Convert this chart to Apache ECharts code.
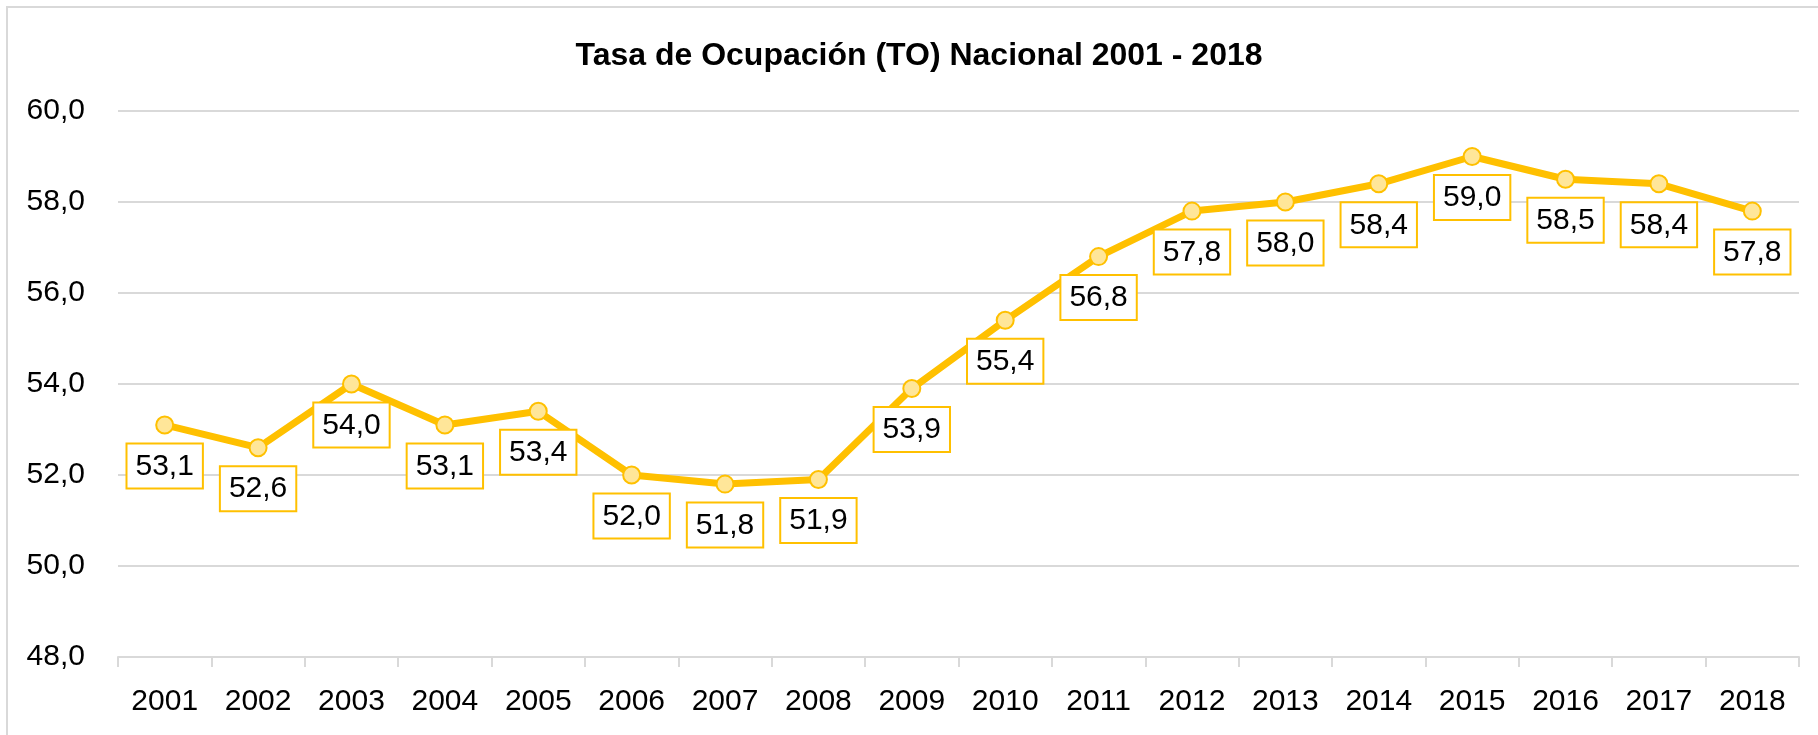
<!DOCTYPE html>
<html>
<head>
<meta charset="utf-8">
<script src="https://cdn.jsdelivr.net/npm/echarts@6/dist/echarts.min.js"></script>
<style>
  html, body { margin: 0; padding: 0; background: #fff; }
  #chart { width: 1818px; height: 735px; }
</style>
</head>
<body>
<div id="chart"></div>
<script>
// datos
const years = ['2001', '2002', '2003', '2004', '2005', '2006', '2007', '2008', '2009',
  '2010', '2011', '2012', '2013', '2014', '2015', '2016', '2017', '2018'];
const tasaOcupacion = [53.1, 52.6, 54.0, 53.1, 53.4, 52.0, 51.8, 51.9, 53.9,
  55.4, 56.8, 57.8, 58.0, 58.4, 59.0, 58.5, 58.4, 57.8];
const titleText = 'Tasa de Ocupación (TO) Nacional 2001 - 2018';

const fmt = v => Number(v).toFixed(1).replace('.', ',');
const font = '"Liberation Sans", Arial, sans-serif';

let myChart = echarts.init(document.getElementById('chart'));

let option = {
  backgroundColor: '#fff',
  textStyle: { fontFamily: font },
  animation: false,
  title: {
    text: titleText,
    left: 914,
    top: 35,
    textAlign: 'center',
    textStyle: {
      fontFamily: font,
      fontSize: 32,
      fontWeight: 'bold',
      color: '#000'
    }
  },
  graphic: [
    {
      type: 'rect',
      shape: { x: 7, y: 7, width: 1840, height: 760 },
      style: { fill: 'none', stroke: '#D9D9D9', lineWidth: 2 },
      z: -1
    }
  ],
  grid: {
    left: 118,
    right: 19,
    top: 111,
    bottom: 78
  },
  xAxis: {
    type: 'category',
    data: years,
    boundaryGap: true,
    axisLine: { lineStyle: { color: '#D9D9D9', width: 2 } },
    axisTick: {
      show: true,
      alignWithLabel: false,
      length: 10,
      lineStyle: { color: '#D9D9D9', width: 2 }
    },
    axisLabel: {
      color: '#000',
      fontSize: 30,
      fontFamily: font,
      margin: 30
    }
  },
  yAxis: {
    type: 'value',
    min: 48,
    max: 60,
    interval: 2,
    axisLine: { show: false },
    axisTick: { show: false },
    axisLabel: {
      color: '#000',
      fontSize: 30,
      fontFamily: font,
      margin: 33,
      formatter: fmt
    },
    splitLine: { lineStyle: { color: '#D9D9D9', width: 2 } }
  },
  series: [
    {
      type: 'line',
      data: tasaOcupacion,
      symbol: 'circle',
      symbolSize: 17,
      lineStyle: { color: '#FFC000', width: 7 },
      itemStyle: { color: '#FFE699', borderColor: '#FFC000', borderWidth: 2 },
      label: {
        show: true,
        position: 'bottom',
        distance: 10,
        formatter: p => fmt(p.value),
        color: '#000',
        fontSize: 30,
        fontFamily: font,
        backgroundColor: '#fff',
        borderColor: '#FFC000',
        borderWidth: 2,
        padding: [7, 8, 6, 8]
      },
      z: 3
    }
  ]
};

myChart.setOption(option);
</script>
</body>
</html>
